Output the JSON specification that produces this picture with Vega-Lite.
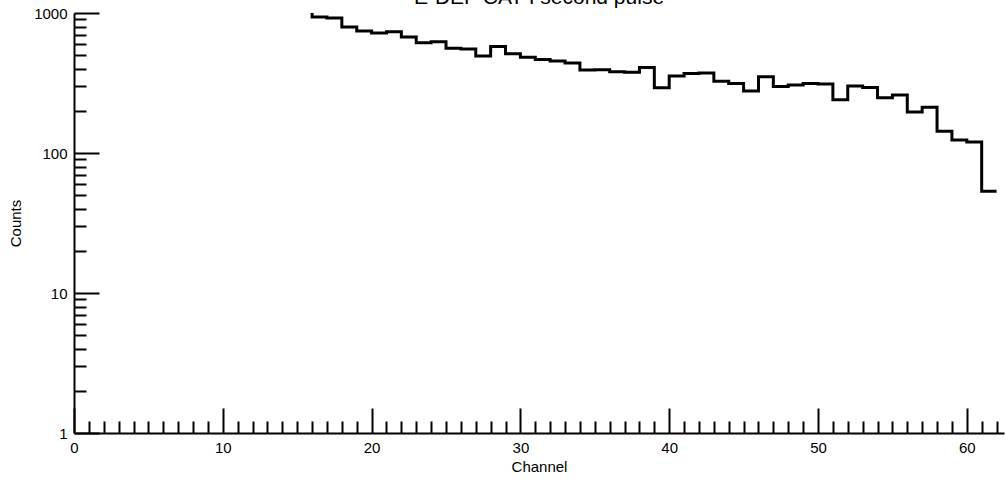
{
  "$schema": "https://vega.github.io/schema/vega-lite/v6.json",
  "autosize": {"type": "none"},
  "padding": {"left": 74, "top": 13, "right": 2, "bottom": 48},
  "width": 930,
  "height": 420,
  "title": {"text": "E-DEF CAT I second pulse", "font": "Liberation Sans", "fontSize": 21, "fontWeight": "normal", "color": "black", "anchor": "middle", "frame": "group", "baseline": "alphabetic", "offset": -18.5},
  "config": {"view": {"stroke": null}, "font": "Liberation Sans"},
  "data": {"values": [
    {"channel": 15, "counts": 1200},
    {"channel": 16, "counts": 936},
    {"channel": 17, "counts": 921},
    {"channel": 18, "counts": 794},
    {"channel": 19, "counts": 743},
    {"channel": 20, "counts": 720},
    {"channel": 21, "counts": 735},
    {"channel": 22, "counts": 674},
    {"channel": 23, "counts": 613},
    {"channel": 24, "counts": 624},
    {"channel": 25, "counts": 559},
    {"channel": 26, "counts": 553},
    {"channel": 27, "counts": 493},
    {"channel": 28, "counts": 577},
    {"channel": 29, "counts": 512},
    {"channel": 30, "counts": 482},
    {"channel": 31, "counts": 466},
    {"channel": 32, "counts": 454},
    {"channel": 33, "counts": 439},
    {"channel": 34, "counts": 392},
    {"channel": 35, "counts": 394},
    {"channel": 36, "counts": 381},
    {"channel": 37, "counts": 377},
    {"channel": 38, "counts": 408},
    {"channel": 39, "counts": 293},
    {"channel": 40, "counts": 355},
    {"channel": 41, "counts": 370},
    {"channel": 42, "counts": 373},
    {"channel": 43, "counts": 325},
    {"channel": 44, "counts": 313},
    {"channel": 45, "counts": 277},
    {"channel": 46, "counts": 351},
    {"channel": 47, "counts": 298},
    {"channel": 48, "counts": 306},
    {"channel": 49, "counts": 314},
    {"channel": 50, "counts": 311},
    {"channel": 51, "counts": 240},
    {"channel": 52, "counts": 301},
    {"channel": 53, "counts": 294},
    {"channel": 54, "counts": 248},
    {"channel": 55, "counts": 260},
    {"channel": 56, "counts": 196},
    {"channel": 57, "counts": 212},
    {"channel": 58, "counts": 143},
    {"channel": 59, "counts": 124},
    {"channel": 60, "counts": 120},
    {"channel": 61, "counts": 53.2},
    {"channel": 62, "counts": 53.2}
  ]},
  "layer": [
    {
      "mark": {"type": "line", "interpolate": "step-after", "color": "black", "strokeWidth": 3, "clip": true},
      "encoding": {
        "x": {"field": "channel", "type": "quantitative",
          "scale": {"domain": [0, 62.5], "nice": false, "zero": false},
          "axis": {"orient": "bottom", "values": [1,2,3,4,5,6,7,8,9,11,12,13,14,15,16,17,18,19,21,22,23,24,25,26,27,28,29,31,32,33,34,35,36,37,38,39,41,42,43,44,45,46,47,48,49,51,52,53,54,55,56,57,58,59,61,62],
            "tickSize": -12, "tickWidth": 2, "tickColor": "black", "labels": false, "domain": false, "grid": false, "title": null}},
        "y": {"field": "counts", "type": "quantitative",
          "scale": {"type": "log", "domain": [1, 1000], "nice": false},
          "axis": {"orient": "left", "values": [2,3,4,5,6,7,8,9,20,30,40,50,60,70,80,90,200,300,400,500,600,700,800,900],
            "tickSize": -12, "tickWidth": 2, "tickColor": "black", "labels": false, "domain": false, "grid": false, "title": null}}
      }
    },
    {
      "mark": {"type": "line", "interpolate": "step-after", "strokeOpacity": 0, "clip": true},
      "encoding": {
        "x": {"field": "channel", "type": "quantitative",
          "axis": {"orient": "bottom", "values": [0,10,20,30,40,50,60], "format": "d",
            "tickSize": -25, "tickWidth": 2, "tickColor": "black",
            "domain": true, "domainWidth": 2, "domainColor": "black", "grid": false,
            "labelPadding": 32, "labelFontSize": 15, "labelColor": "black", "labelFlush": false, "labelOverlap": false,
            "title": "Channel", "titleFontSize": 15, "titleFontWeight": "normal", "titleColor": "black", "titlePadding": 4}},
        "y": {"field": "counts", "type": "quantitative",
          "axis": {"orient": "left", "values": [1,10,100,1000], "format": "d",
            "tickSize": -25, "tickWidth": 2, "tickColor": "black",
            "domain": true, "domainWidth": 2, "domainColor": "black", "grid": false,
            "labelPadding": 32, "labelFontSize": 15, "labelColor": "black", "labelFlush": false, "labelOverlap": false,
            "title": "Counts", "titleFontSize": 15, "titleFontWeight": "normal", "titleColor": "black", "titlePadding": 10}}
      }
    }
  ],
  "resolve": {"axis": {"x": "independent", "y": "independent"}}
}
